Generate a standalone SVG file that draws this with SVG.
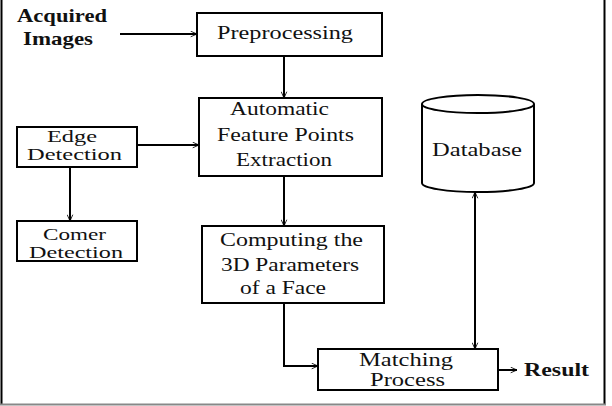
<svg xmlns="http://www.w3.org/2000/svg" width="612" height="406" viewBox="0 0 612 406">
<defs>
<marker id="ah" viewBox="0 0 10 10" refX="10" refY="5" markerWidth="7" markerHeight="7" orient="auto-start-reverse" markerUnits="userSpaceOnUse">
<path d="M1,1 L10,5 L1,9" fill="none" stroke="#000" stroke-width="1.2"/>
</marker>
<style>
.box{fill:#fff;stroke:#000;stroke-width:2}
.t{font-family:"Liberation Serif","Times New Roman",serif;font-size:19px;fill:#111}
.s{font-size:18px}
.xs{font-size:16px}
.b{font-family:"Liberation Serif","Times New Roman",serif;font-size:19px;font-weight:bold;fill:#111}
.c{fill:none;stroke:#000;stroke-width:2}
</style>
</defs>
<rect x="0" y="0" width="612" height="406" fill="#fff"/>
<path d="M1.5,0 V404 M604.5,0 V404" stroke="#000" stroke-width="2" fill="none"/>
<path d="M0,404.5 H606" stroke="#888" stroke-width="2"/>

<g id="acquired">
<text class="b" x="17" y="22" textLength="90" lengthAdjust="spacingAndGlyphs">Acquired</text>
<text class="b" x="23" y="45" textLength="70" lengthAdjust="spacingAndGlyphs">Images</text>
</g>
<g id="preprocessing">
<rect class="box" x="197" y="13" width="185" height="43"/>
<text class="t" x="217" y="39" textLength="136" lengthAdjust="spacingAndGlyphs">Preprocessing</text>
</g>
<g id="feature">
<rect class="box" x="199" y="98" width="183" height="78"/>
<text class="t" x="230" y="115" textLength="99" lengthAdjust="spacingAndGlyphs">Automatic</text>
<text class="t" x="217" y="141" textLength="137" lengthAdjust="spacingAndGlyphs">Feature Points</text>
<text class="t" x="236" y="166" textLength="96" lengthAdjust="spacingAndGlyphs">Extraction</text>
</g>
<g id="edge">
<rect class="box" x="17" y="127" width="120" height="40"/>
<text class="t xs" x="47" y="142" textLength="50" lengthAdjust="spacingAndGlyphs">Edge</text>
<text class="t xs" x="27" y="160" textLength="95" lengthAdjust="spacingAndGlyphs">Detection</text>
</g>
<g id="corner">
<rect class="box" x="17" y="221" width="120" height="40"/>
<text class="t xs" x="43" y="240" textLength="63" lengthAdjust="spacingAndGlyphs">Comer</text>
<text class="t xs" x="29" y="258" textLength="94" lengthAdjust="spacingAndGlyphs">Detection</text>
</g>
<g id="computing">
<rect class="box" x="202" y="226" width="182" height="77"/>
<text class="t" x="220" y="246" textLength="143" lengthAdjust="spacingAndGlyphs">Computing the</text>
<text class="t" x="221" y="271" textLength="138" lengthAdjust="spacingAndGlyphs">3D Parameters</text>
<text class="t" x="240" y="294" textLength="86" lengthAdjust="spacingAndGlyphs">of a Face</text>
</g>
<g id="database">
<path d="M422,104 V183 A56,9 0 0 0 534,183 V104" fill="#fff" stroke="#000" stroke-width="2"/>
<ellipse cx="478" cy="104" rx="56" ry="9" fill="#fff" stroke="#000" stroke-width="2"/>
<text class="t" x="432" y="156" textLength="90" lengthAdjust="spacingAndGlyphs">Database</text>
</g>
<g id="matching">
<rect class="box" x="318" y="349" width="180" height="41"/>
<text class="t s" x="359" y="366" textLength="94" lengthAdjust="spacingAndGlyphs">Matching</text>
<text class="t s" x="370" y="386" textLength="75" lengthAdjust="spacingAndGlyphs">Process</text>
</g>
<g id="result">
<text class="b" x="524" y="376" textLength="65" lengthAdjust="spacingAndGlyphs">Result</text>
</g>

<g id="connectors">
<path class="c" d="M120,34 H197" marker-end="url(#ah)"/>
<path class="c" d="M284,56 V98" marker-end="url(#ah)"/>
<path class="c" d="M137,145 H199" marker-end="url(#ah)"/>
<path class="c" d="M70,167 V221" marker-end="url(#ah)"/>
<path class="c" d="M284,176 V226" marker-end="url(#ah)"/>
<path class="c" d="M284,303 V366 H318" marker-end="url(#ah)"/>
<path class="c" d="M475,192 V349" marker-start="url(#ah)" marker-end="url(#ah)"/>
<path class="c" d="M498,370 H517" marker-end="url(#ah)"/>
</g>
</svg>
